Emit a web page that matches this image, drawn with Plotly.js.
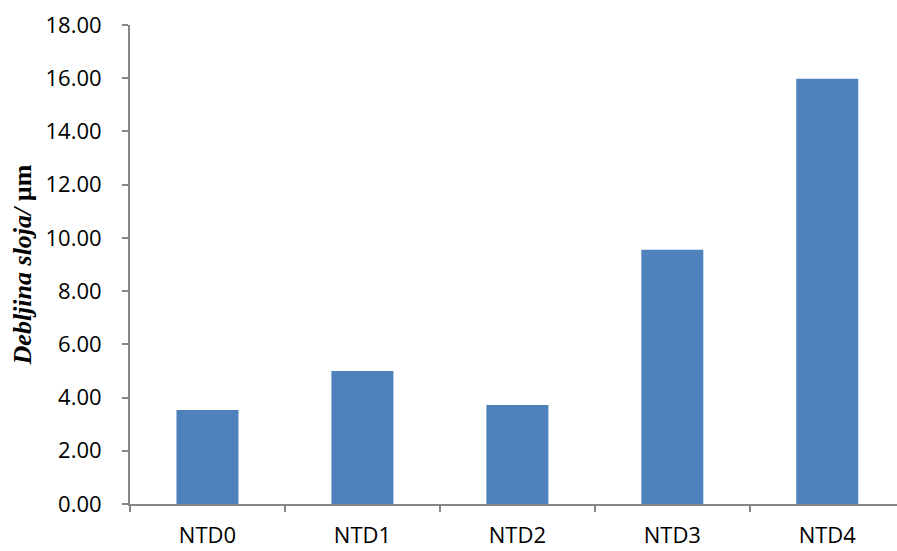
<!DOCTYPE html>
<html>
<head>
<meta charset="utf-8">
<script src="https://cdn.plot.ly/plotly-3.0.1.min.js"></script>
<style>html,body{margin:0;padding:0;background:#fff;}#chart{width:897px;height:551px;}</style>
</head>
<body>
<div id="chart"></div>
<script>
const categories = ["NTD0", "NTD1", "NTD2", "NTD3", "NTD4"];
const thickness = [3.53, 5.00, 3.72, 9.55, 15.98];
const yTickVals = [0, 2, 4, 6, 8, 10, 12, 14, 16, 18];
const yTickText = ["0.00", "2.00", "4.00", "6.00", "8.00", "10.00", "12.00", "14.00", "16.00", "18.00"];
const yTitle = "<b><i>Debljina sloja/</i> µm</b>";

const trace = {
  type: "bar",
  x: categories,
  y: thickness,
  marker: {color: "#4F81BD"},
  hoverinfo: "x+y"
};

const layout = {
  width: 897, height: 551,
  margin: {l: 130, r: 0, t: 25, b: 47},
  paper_bgcolor: "#fff", plot_bgcolor: "#fff",
  bargap: 0.6,
  showlegend: false,
  font: {family: "Open Sans, sans-serif", color: "#000"},
  xaxis: {
    range: [-0.5, 4.45],
    showgrid: false, zeroline: false,
    showline: true, linecolor: "#868686", linewidth: 2,
    ticks: "outside", tickson: "boundaries", ticklen: 6, tickcolor: "#868686", tickwidth: 2,
    tickfont: {family: "Open Sans, sans-serif", size: 22, color: "#000"},
    ticklabelstandoff: 11
  },
  yaxis: {
    range: [0, 18],
    tickvals: yTickVals, ticktext: yTickText,
    showgrid: false, zeroline: false,
    showline: true, linecolor: "#868686", linewidth: 2,
    ticks: "outside", ticklen: 6, tickcolor: "#868686", tickwidth: 2,
    tickfont: {family: "Open Sans, sans-serif", size: 22, color: "#000"},
    ticklabelstandoff: 16,
    title: {text: yTitle, font: {family: "Liberation Serif, serif", size: 26, color: "#000"}, standoff: 6}
  }
};

Plotly.newPlot("chart", [trace], layout, {displayModeBar: false, staticPlot: true});
</script>
</body>
</html>
